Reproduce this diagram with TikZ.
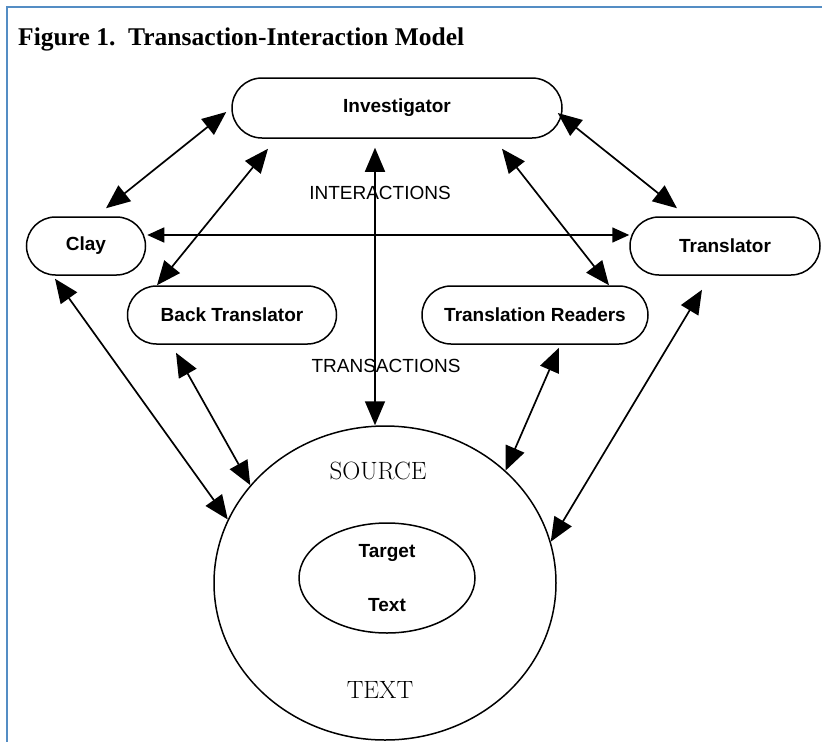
\documentclass[tikz,border=0pt]{standalone}
\usepackage{fontspec}
\newfontfamily\helv{Liberation Sans}
\newfontfamily\titlefont{Liberation Serif}
\usetikzlibrary{shapes.misc,shapes.geometric,arrows.meta,calc}
\definecolor{frameblue}{RGB}{84,141,196}
\tikzset{big/.tip={Triangle[length=24pt,width=20pt]},
small/.tip={Triangle[length=17pt,width=15pt]}}
\begin{document}
\begin{tikzpicture}[x=1pt,y=-1pt,
box/.style={rounded rectangle, draw, line width=1.5pt, minimum height=58pt, inner sep=0pt, font=\helv\bfseries\fontsize{19}{23}\selectfont},
link/.style={line width=1.7pt, big-big},
word/.style={font=\fontsize{25}{29}\selectfont},
lab/.style={font=\helv\fontsize{19}{23}\selectfont}]
\useasboundingbox (0,0) rectangle (822,742);
\draw[frameblue, line width=2.5pt] (822,7) -- (7,7) -- (7,742);
\node[anchor=base west, inner sep=0pt, font=\titlefont\bfseries\fontsize{25.5}{30}\selectfont] (title) at (18,45) {Figure 1.\ \ Transaction-Interaction Model};

\node[box, minimum width=330pt, minimum height=60pt] (inv) at (397,108) {Investigator};
\node[box, minimum width=119pt] (clay) at (86,246) {Clay};
\node[box, minimum width=190pt] (trans) at (725,246) {Translator};
\node[box, minimum width=209pt] (bt) at (232,315) {Back Translator};
\node[box, minimum width=226pt] (tr) at (535,315) {Translation Readers};
\node[ellipse, draw, line width=1.5pt, minimum width=342pt, minimum height=314pt, inner sep=0pt] (src) at (385,583) {};
\node[ellipse, draw, line width=1.5pt, minimum width=176pt, minimum height=110pt, inner sep=0pt, align=center, font=\helv\bfseries\fontsize{19}{23}\selectfont] (tgt) at (387,578) {Target\\[31pt]Text};

\node[word] (srcword) at (378,471) {SOURCE};
\node[word] (textword) at (380,690) {TEXT};
\node[lab] (inter) at (380,193) {INTERACTIONS};
\node[lab] (transact) at (386,366) {TRANSACTIONS};

\draw[link] ($(clay.north)+(20,-8)$) -- ($(inv.west)+(-5,4)$);
\draw[link] ($(inv.east)+(-5,5)$) -- ($(trans.north)+(-48,-8)$);
\draw[line width=1.6pt, small-small] ($(clay.east)+(1,-11)$) -- ($(trans.west)+(0,-11)$);
\draw[link] ($(inv.south)+(-129,10)$) -- ($(bt.north)+(-75,0)$);
\draw[link] ($(inv.south)+(105,10)$) -- ($(tr.north)+(74,0)$);
\draw[link] ($(inv.south)+(-22,9)$) -- ($(src.north)+(-10,0)$);
\draw[link] ($(clay.south)+(-31,3)$) -- (src.158);
\draw[link] ($(bt.south)+(-56,8)$) -- (src.144);
\draw[link] ($(tr.south)+(24,3)$) -- (src.43);
\draw[link] ($(trans.south)+(-23,14)$) -- (src.14);
\end{tikzpicture}
\end{document}
